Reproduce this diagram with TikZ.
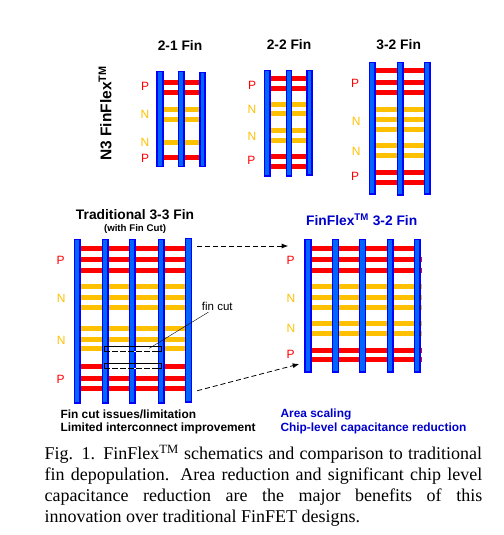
\documentclass[tikz,border=0pt]{standalone}
\usepackage{fontspec}
\setmainfont{Liberation Serif}
\setsansfont{Liberation Sans}
\usetikzlibrary{arrows.meta,positioning}
\definecolor{finblue}{RGB}{0,0,255}
\definecolor{finfill}{RGB}{0,102,255}
\definecolor{titleblue}{RGB}{0,0,204}
\definecolor{finred}{RGB}{255,0,0}
\definecolor{finyellow}{RGB}{255,192,0}
% pillar: x left, x right, y top, y bottom
\newcommand{\gatebar}[4]{\draw[gate] (#1,#3) rectangle (#2,#4);}
% fin row: x left, x right, y centre
\newcommand{\pfin}[3]{\fill[finred] (#1,#3-2.5) rectangle (#2,#3+2.5);}
\newcommand{\nfin}[3]{\fill[finyellow] (#1,#3-2.5) rectangle (#2,#3+2.5);}

\begin{document}
\begin{tikzpicture}[
  x=1pt,y=-1pt,
  font=\sffamily\fontsize{10}{12}\selectfont,
  gate/.style={draw=finblue,fill=finfill,line width=1.5pt},
  plabel/.style={text=finred,font=\sffamily\fontsize{12}{14}\selectfont},
  nlabel/.style={text=finyellow,font=\sffamily\fontsize{12}{14}\selectfont},
  head/.style={font=\sffamily\bfseries\fontsize{13.8}{16}\selectfont},
  note/.style={font=\sffamily\bfseries\fontsize{11.9}{14}\selectfont,anchor=west},
  cutbox/.style={draw=black,line width=0.7pt},
  cutgap/.style={draw=white,line width=0.9pt,dash pattern=on 2pt off 6pt},
  arr/.style={-Latex,line width=0.8pt,dash pattern=on 5pt off 3pt},
]
\useasboundingbox (0,0) rectangle (503,535);

% 2-1 Fin
\foreach \y in {82.3,92.3,157.3} {\pfin{160}{202}{\y}}
\foreach \y in {109.3,119.3,142.3} {\nfin{160}{202}{\y}}
\gatebar{157}{163}{71.5}{166.5}
\gatebar{178.5}{184}{71.5}{166.5}
\gatebar{200}{205}{72.5}{166.5}
\node[head] (t21) at (180,46) {2-1 Fin};
\node[plabel] (p21a) at (145,86.7) {P};
\node[nlabel] (n21a) at (145,114.7) {N};
\node[nlabel] (n21b) at (145,142.7) {N};
\node[plabel] (p21b) at (145,158.7) {P};

% 2-2 Fin
\foreach \y in {78.3,88.3,156.3,166} {\pfin{267}{309}{\y}}
\foreach \y in {104.3,113.3,130.3,140.3} {\nfin{267}{309}{\y}}
\gatebar{264.7}{270}{70.5}{176}
\gatebar{286.5}{291.5}{70.5}{176}
\gatebar{307}{312}{70.5}{175}
\node[head] (t22) at (289,44.3) {2-2 Fin};
\node[plabel] (p22a) at (252,85.7) {P};
\node[nlabel] (n22a) at (252,109.3) {N};
\node[nlabel] (n22b) at (252,136.7) {N};
\node[plabel] (p22b) at (251.3,160.7) {P};

% 3-2 Fin
\foreach \y in {70.7,82.3,92.3,172.3,182} {\pfin{372}{427}{\y}}
\foreach \y in {109.3,119.3,129.3,145.3,155.3} {\nfin{372}{427}{\y}}
\gatebar{369.7}{375}{62.5}{194}
\gatebar{397.7}{403}{62.5}{195}
\gatebar{424.7}{430}{62.5}{194}
\node[head] (t32) at (398.7,44.3) {3-2 Fin};
\node[plabel] (p32a) at (355,83.3) {P};
\node[nlabel] (n32a) at (356.3,121.3) {N};
\node[nlabel] (n32b) at (356.3,151.7) {N};
\node[plabel] (p32b) at (355,176) {P};

\node[rotate=90,font=\sffamily\bfseries\fontsize{15.5}{18}\selectfont] (n3) at (105,113.3) {N3 FinFlex\textsuperscript{TM}};

% Traditional 3-3 Fin
\foreach \y in {248.3,259.3,270,366.3,378.3,388.3} {\pfin{77}{188}{\y}}
\foreach \y in {286.3,297,307.3,328.3,339,348.3} {\nfin{77}{188}{\y}}
\fill[white] (104.3,346.3) rectangle (161.7,351.7);
\fill[white] (104.3,363.3) rectangle (161.7,368.7);
\gatebar{74.7}{80}{239.7}{403}
\gatebar{102.7}{108}{239.7}{403}
\gatebar{129.7}{135}{239.7}{403}
\gatebar{158.7}{164}{239.7}{403}
\gatebar{185.7}{191.3}{238.7}{402}
\draw[cutbox] (104.3,346.3) rectangle (161.7,351.7);
\draw[cutbox] (104.3,363.3) rectangle (161.7,368.7);
\draw[cutgap] (110,351.7) -- (156,351.7);
\draw[cutgap] (110,368.7) -- (156,368.7);
\node[head] (t33) at (135,214.3) {Traditional 3-3 Fin};
\node[font=\sffamily\bfseries\fontsize{9.7}{11}\selectfont] (sub33) at (135,229) {(with Fin Cut)};
\node[plabel] (p33a) at (60.7,260.7) {P};
\node[nlabel] (n33a) at (61.3,298.7) {N};
\node[nlabel] (n33b) at (61.3,340.7) {N};
\node[plabel] (p33b) at (60.7,379.3) {P};
\node[font=\sffamily\fontsize{11.5}{13}\selectfont,inner sep=1pt] (cut) at (217.3,306.7) {fin cut};
\coordinate (cuttip) at (149.3,348.3);
\draw[line width=0.4pt] (cut) -- (cuttip);

% FinFlex 3-2 Fin
\foreach \y in {248.3} {\pfin{308}{415}{\y}}
\foreach \y in {259.3,270,350,359.3} {\pfin{308}{422}{\y}}
\foreach \y in {286.3,297,307.3,323.3,333.3} {\nfin{308}{422}{\y}}
\gatebar{305}{311}{239.7}{372}
\gatebar{332.7}{338.7}{239.7}{372}
\gatebar{359.7}{365.7}{239.7}{372}
\gatebar{387.7}{393}{239.7}{372}
\gatebar{414.7}{420}{239.7}{372}
\node[head,text=titleblue] (tflex) at (361.7,220) {FinFlex\textsuperscript{TM} 3-2 Fin};
\node[plabel] (p4a) at (290.7,260.7) {P};
\node[nlabel] (n4a) at (291,298.7) {N};
\node[nlabel] (n4b) at (291,328.3) {N};
\node[plabel] (p4b) at (290.7,354.3) {P};

% arrows
\coordinate (a1) at (197.3,246);
\coordinate (b1) at (288.3,246);
\coordinate (a2) at (197.3,390.7);
\coordinate (b2) at (299.3,364);
\draw[arr] (a1) -- (b1);
\draw[arr] (a2) -- (b2);

% notes
\node[note] (fc1) at (57,414.7) {Fin cut issues/limitation};
\node[note] (fc2) at (57,428.7) {Limited interconnect improvement};
\node[note,text=titleblue] (as1) at (277,414.7) {Area scaling};
\node[note,text=titleblue] (as2) at (277,428.7) {Chip-level capacitance reduction};

% caption
\node[anchor=north west,inner sep=0pt,text width=437.5pt,align=justify,font=\rmfamily\fontsize{18}{20.9}\selectfont] (cap) at (44.5,445) {Fig. 1. FinFlex\textsuperscript{TM} schematics and comparison to traditional\linebreak fin depopulation. Area reduction and significant chip level\linebreak capacitance reduction are the major benefits of this\linebreak innovation over traditional FinFET designs.};
\end{tikzpicture}
\end{document}
